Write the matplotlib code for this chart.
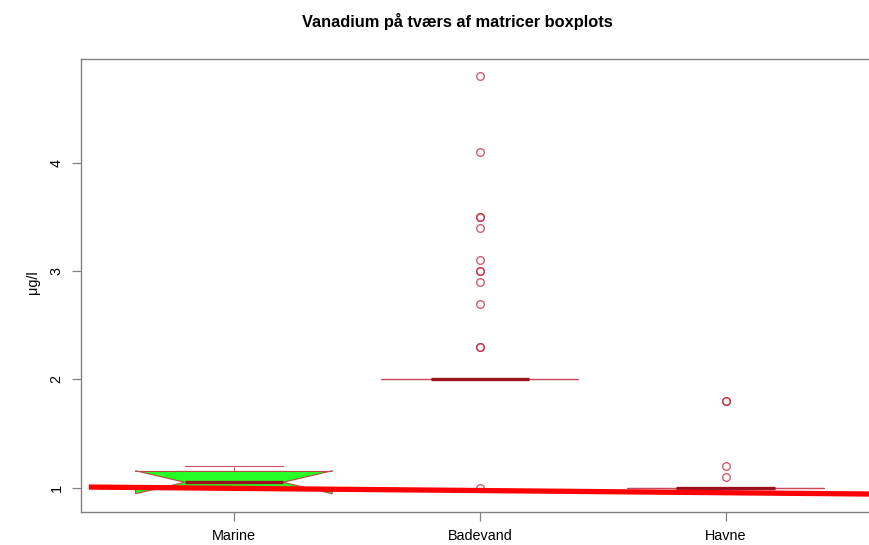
import matplotlib
matplotlib.use('Agg')
import matplotlib.pyplot as plt

# values
groups = ['Marine', 'Badevand', 'Havne']
medians = [1.05, 2.0, 1.0]
q1s = [1.0, 2.0, 1.0]
q3s = [1.15, 2.0, 1.0]
whis_lo = [1.0, 2.0, 1.0]
whis_hi = [1.2, 2.0, 1.0]
notch_lo = [0.944, 2.0, 1.0]
notch_hi = [1.156, 2.0, 1.0]
outliers = [
    [],
    [4.8, 4.1, 3.5, 3.5, 3.4, 3.1, 3.0, 3.0, 2.9, 2.7, 2.3, 2.3, 1.0],
    [1.8, 1.8, 1.2, 1.1],
]
trend_x = [0.41, 3.62]
trend_y = [1.006, 0.941]

plt.rcParams['font.family'] = ['Liberation Sans', 'DejaVu Sans']

stats = []
for i, name in enumerate(groups):
    stats.append({
        'label': name,
        'med': medians[i], 'q1': q1s[i], 'q3': q3s[i],
        'whislo': whis_lo[i], 'whishi': whis_hi[i],
        'cilo': notch_lo[i], 'cihi': notch_hi[i],
        'fliers': outliers[i],
    })

fig = plt.figure(figsize=(8.7, 5.45), dpi=100)
ax = fig.add_axes([0.0931, 0.0606, 0.9167, 0.8312])

edge = '#c0283c'
ax.bxp(stats, positions=[1, 2, 3], widths=0.8, shownotches=True, patch_artist=True,
       boxprops=dict(facecolor='#00ff00', edgecolor=edge, linewidth=0.8, alpha=0.85),
       medianprops=dict(color='#9b111e', linewidth=2.4, solid_capstyle='butt'),
       whiskerprops=dict(color=edge, linestyle='--', linewidth=0.8, alpha=0.8),
       capprops=dict(color=edge, linewidth=0.8, alpha=0.8),
       flierprops=dict(marker='o', markerfacecolor='none', markeredgecolor=edge,
                       markersize=5.5, markeredgewidth=1.0, alpha=0.75))

# regression line on top
ax.plot(trend_x, trend_y, color='#ff0000', linewidth=3.8, zorder=10, solid_capstyle='butt')

ax.set_xlim(0.378, 3.622)
ax.set_ylim(0.776, 4.957)
ax.set_yticks([1, 2, 3, 4])
ax.set_yticklabels(['1', '2', '3', '4'], rotation=90, va='center')
ax.set_xticks([1, 2, 3])
ax.set_xticklabels(groups)
ax.tick_params(axis='both', length=6.5, width=0.9, color='#808080', labelsize=10.4, pad=6)

for sp in ax.spines.values():
    sp.set_color('#808080')
    sp.set_linewidth(1.0)

fig.text(33 / 870, 1 - 282 / 545, 'μg/l', rotation=90, ha='center', va='center', fontsize=10.4)
fig.text(457.5 / 870, 1 - 22 / 545, 'Vanadium på tværs af matricer boxplots',
         ha='center', va='center', fontsize=11.8, fontweight='bold')

fig.savefig('out.png', dpi=100)
